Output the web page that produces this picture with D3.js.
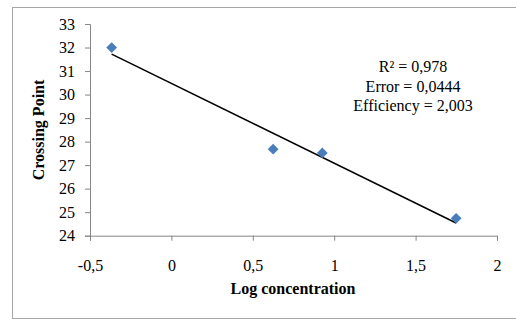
<!DOCTYPE html>
<html><head><meta charset="utf-8">
<script src="https://cdn.jsdelivr.net/npm/d3@7"></script>
<style>body{margin:0;background:#fff}svg{display:block}text{font-family:"Liberation Serif","Times New Roman",serif}</style>
</head><body><svg id="c" width="516" height="320"></svg>
<script>
const logConc = [-0.367, 0.625, 0.927, 1.749];
const crossingPoint = [32.0, 27.68, 27.52, 24.74];
const xTicks = [-0.5, 0, 0.5, 1, 1.5, 2];
const yTicks = [24, 25, 26, 27, 28, 29, 30, 31, 32, 33];
const statLines = ["R² = 0,978", "Error = 0,0444", "Efficiency = 2,003"];
const xTitle = "Log concentration";
const yTitle = "Crossing Point";

const svg = d3.select("#c");
svg.append("rect").attr("x",12.5).attr("y",7.5).attr("width",520).attr("height",311)
  .attr("fill","#fff").attr("stroke","#a6a6a6").attr("stroke-width",1);

const x = d3.scaleLinear().domain([-0.5, 2]).range([90, 497]);
const y = d3.scaleLinear().domain([24, 33]).range([235.7, 24]);
const fmt = d => String(d).replace(".", ",");

const gx = svg.append("g").attr("transform","translate(0,235.7)")
  .call(d3.axisBottom(x).tickValues(xTicks).tickFormat(fmt).tickSize(5).tickPadding(19));
const gy = svg.append("g").attr("transform","translate(90,0)")
  .call(d3.axisLeft(y).tickValues(yTicks).tickFormat(fmt).tickSize(5).tickPadding(10));
[gx, gy].forEach(g => {
  g.select(".domain").attr("stroke","#868686");
  g.selectAll(".tick line").attr("stroke","#868686");
  g.selectAll("text").attr("font-size",16).attr("fill","#000")
    .style("font-family",'"Liberation Serif","Times New Roman",serif');
});

// linear regression trendline
const n = logConc.length;
const mx = d3.mean(logConc), my = d3.mean(crossingPoint);
let sxy = 0, sxx = 0;
for (let i = 0; i < n; i++) { sxy += (logConc[i]-mx)*(crossingPoint[i]-my); sxx += (logConc[i]-mx)**2; }
const slope = sxy/sxx, icpt = my - slope*mx;
const [x0, x1] = d3.extent(logConc);
svg.append("line")
  .attr("x1", x(x0)).attr("y1", y(icpt + slope*x0))
  .attr("x2", x(x1)).attr("y2", y(icpt + slope*x1))
  .attr("stroke","#000").attr("stroke-width",1.5);

svg.selectAll(".pt").data(logConc.map((d,i)=>[d, crossingPoint[i]])).enter()
  .append("path").attr("class","pt")
  .attr("d", d3.symbol(d3.symbolSquare, 58))
  .attr("transform", d => `translate(${x(d[0])},${y(d[1])}) rotate(45)`)
  .attr("fill","#4a7ebb");

svg.selectAll(".stat").data(statLines).enter().append("text")
  .attr("x", 413).attr("y", (d,i) => 72 + i*19.5)
  .attr("text-anchor","middle").attr("font-size",16).text(d => d);

svg.append("text").attr("x", 293).attr("y", 294).attr("text-anchor","middle")
  .attr("font-size",16).attr("font-weight","bold").text(xTitle);
svg.append("text").attr("transform","translate(44,130) rotate(-90)")
  .attr("text-anchor","middle").attr("font-size",16).attr("font-weight","bold").text(yTitle);
</script></body></html>
